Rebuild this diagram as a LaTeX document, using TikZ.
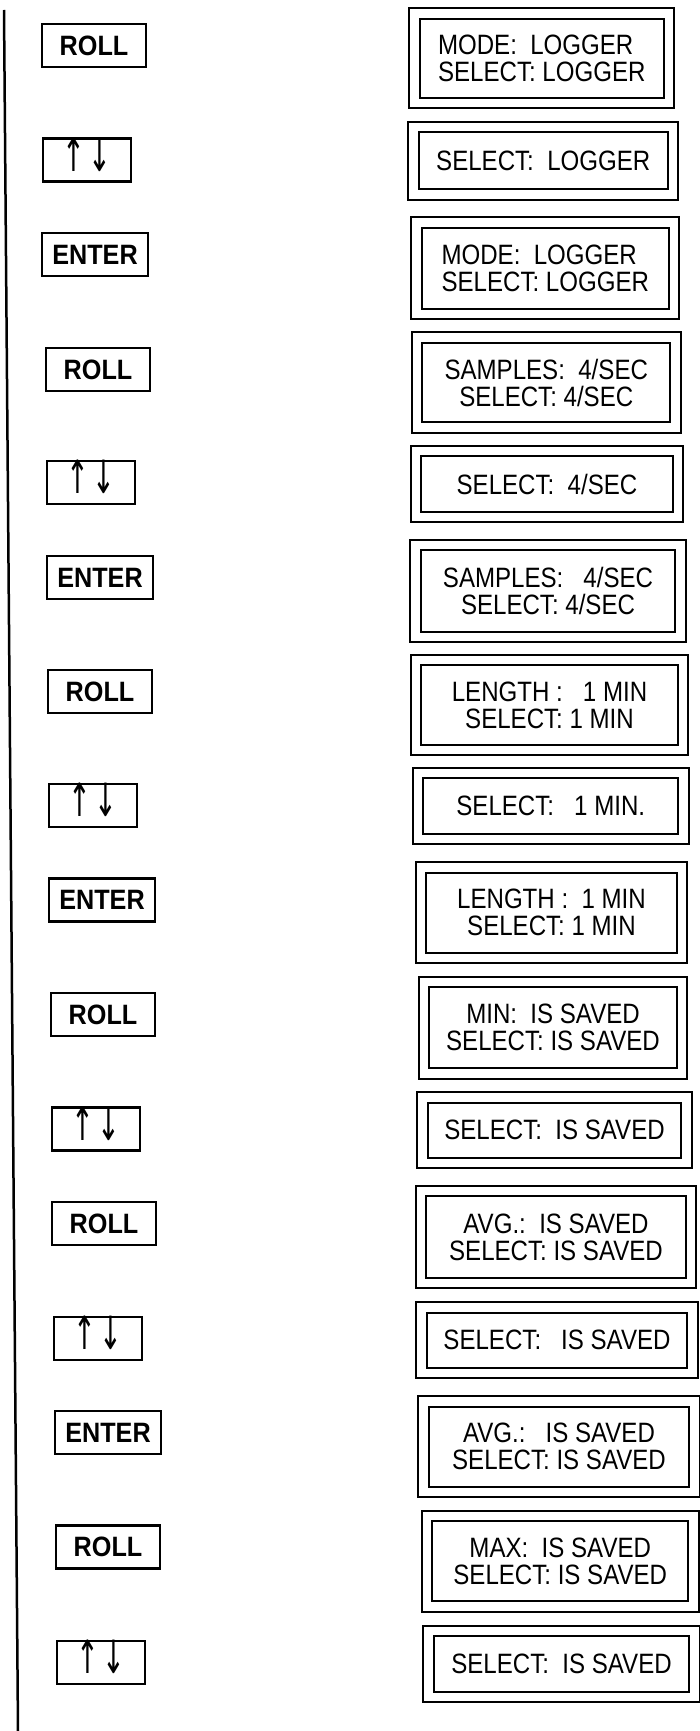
\documentclass[tikz,border=0pt]{standalone}
\usepackage{fontspec}
\usepackage{tikz}
\usetikzlibrary{positioning}
\newfontfamily\lcdfont{Liberation Sans}[FakeStretch=0.86]
\newfontfamily\btnfont{Liberation Sans}[FakeStretch=0.9]
\newfontfamily\arrfont{DejaVu Sans}
\newcommand{\updnlabel}{\scalebox{0.8}[1.35]{↑}\hspace{3pt}\scalebox{0.8}[1.35]{↓}}
\tikzset{
    btn/.style={draw=black, line width=2.5pt, minimum height=43pt, inner sep=0pt, font=\btnfont\bfseries\fontsize{28}{28}\selectfont},
    roll/.style={btn, minimum width=104pt},
    enter/.style={btn, minimum width=106pt},
    updn/.style={btn, minimum width=88pt},
    updntxt/.style={inner sep=0pt, font=\arrfont\fontsize{34}{34}\selectfont},
    lcd/.style={draw=black, line width=2pt, double, double distance=8.5pt, inner sep=0pt, align=center, font=\lcdfont\fontsize{28}{27}\selectfont},
    rail/.style={line width=2.5pt}
}
\begin{document}
\begin{tikzpicture}[x=1pt, y=-1pt]
    \useasboundingbox (0,0) rectangle (700,1731);
    \coordinate (railtop) at (4,10);
    \coordinate (railbot) at (18,1731);
    \draw[rail] (railtop) -- (railbot);

    \node[roll] (k1) at (94,45.5) {ROLL};
    \node[lcd, minimum width=254.5pt, minimum height=89.5pt, align=left] (d1) at (541.75,58.25) {MODE:\ \ LOGGER\\SELECT: LOGGER};

    \node[updn] (k2) at (87,160) {};
    \node[updntxt, below=0pt of k2.north] (k2t) {\updnlabel};
    \node[lcd, minimum width=259.5pt, minimum height=67.5pt] (d2) at (543.25,160.75) {SELECT:\ \ LOGGER};

    \node[enter] (k3) at (95,254.5) {ENTER};
    \node[lcd, minimum width=257.5pt, minimum height=91.5pt, align=left] (d3) at (545.25,268.25) {MODE:\ \ LOGGER\\SELECT: LOGGER};

    \node[roll] (k4) at (98,369.5) {ROLL};
    \node[lcd, minimum width=258.5pt, minimum height=90pt] (d4) at (546.25,382.5) {SAMPLES:\ \ 4/SEC\\SELECT: 4/SEC};

    \node[updn] (k5) at (91,482.5) {};
    \node[updntxt, below=0pt of k5.north] (k5t) {\updnlabel};
    \node[lcd, minimum width=262pt, minimum height=66pt] (d5) at (547,484) {SELECT:\ \ 4/SEC};

    \node[enter] (k6) at (100,577.5) {ENTER};
    \node[lcd, minimum width=265pt, minimum height=92pt] (d6) at (548,591) {SAMPLES:\ \ \ 4/SEC\\SELECT: 4/SEC};

    \node[roll] (k7) at (100,691.5) {ROLL};
    \node[lcd, minimum width=267pt, minimum height=90pt] (d7) at (549.5,705) {LENGTH :\ \ \ 1 MIN\\SELECT: 1 MIN};

    \node[updn] (k8) at (93,805.5) {};
    \node[updntxt, below=0pt of k8.north] (k8t) {\updnlabel};
    \node[lcd, minimum width=265.5pt, minimum height=66pt] (d8) at (550.75,806) {SELECT:\ \ \ 1 MIN.};

    \node[enter] (k9) at (102,900) {ENTER};
    \node[lcd, minimum width=261pt, minimum height=90.5pt] (d9) at (551.5,912.75) {LENGTH :\ \ 1 MIN\\SELECT: 1 MIN};

    \node[roll] (k10) at (103,1014.5) {ROLL};
    \node[lcd, minimum width=258pt, minimum height=91.5pt] (d10) at (553,1027.75) {MIN:\ \ IS SAVED\\SELECT: IS SAVED};

    \node[updn] (k11) at (96,1129) {};
    \node[updntxt, below=0pt of k11.north] (k11t) {\updnlabel};
    \node[lcd, minimum width=264pt, minimum height=65.5pt] (d11) at (554.5,1130.25) {SELECT:\ \ IS SAVED};

    \node[roll] (k12) at (104,1223.5) {ROLL};
    \node[lcd, minimum width=270pt, minimum height=92pt] (d12) at (556,1237) {AVG.:\ \ IS SAVED\\SELECT: IS SAVED};

    \node[updn] (k13) at (98,1338.5) {};
    \node[updntxt, below=0pt of k13.north] (k13t) {\updnlabel};
    \node[lcd, minimum width=271pt, minimum height=65.5pt] (d13) at (557,1340.25) {SELECT:\ \ \ IS SAVED};

    \node[enter] (k14) at (108,1432.5) {ENTER};
    \node[lcd, minimum width=271pt, minimum height=90.5pt] (d14) at (559,1446.75) {AVG.:\ \ \ IS SAVED\\SELECT: IS SAVED};

    \node[roll] (k15) at (108,1547) {ROLL};
    \node[lcd, minimum width=266.5pt, minimum height=90.5pt] (d15) at (560.25,1561.25) {MAX:\ \ IS SAVED\\SELECT: IS SAVED};

    \node[updn] (k16) at (101,1662.5) {};
    \node[updntxt, below=0pt of k16.north] (k16t) {\updnlabel};
    \node[lcd, minimum width=266pt, minimum height=66pt] (d16) at (561.5,1664) {SELECT:\ \ IS SAVED};
\end{tikzpicture}
\end{document}
